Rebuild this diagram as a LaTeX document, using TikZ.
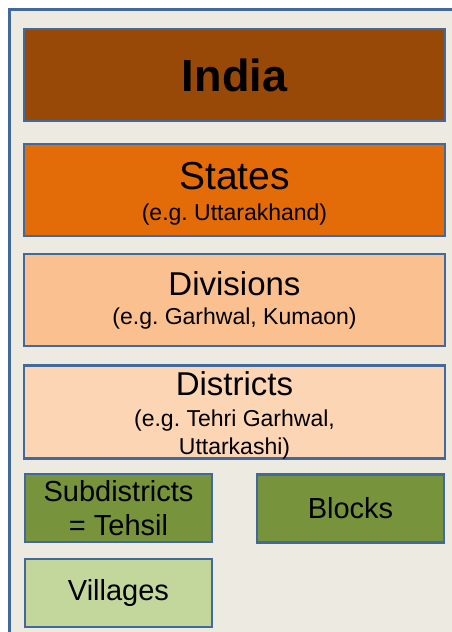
\documentclass[tikz,border=0pt]{standalone}
\usepackage{fontspec}
\setmainfont{Liberation Sans}
\frenchspacing
\definecolor{frameblue}{HTML}{41699B}
\definecolor{bgtan}{HTML}{EDEBE1}
\definecolor{indiafill}{HTML}{984807}
\definecolor{statefill}{HTML}{E36C09}
\definecolor{divfill}{HTML}{FAC090}
\definecolor{distfill}{HTML}{FCD5B5}
\definecolor{greenfill}{HTML}{77933C}
\definecolor{villfill}{HTML}{C3D69B}
\tikzset{
  box/.style={draw=frameblue, line width=2.8pt, rectangle, align=center, inner sep=0pt, text=black},
  widebox/.style={box, minimum width=421pt, minimum height=92pt},
  smallbox/.style={box, minimum width=187pt, minimum height=68pt},
  subfont/.style={font=\fontsize{23}{31}\selectfont}
}
\begin{document}
\begin{tikzpicture}[x=1pt,y=-1pt]
\useasboundingbox (0,0) rectangle (452,632);
\clip (0,0) rectangle (452,632);
\fill[white] (0,0) rectangle (452,632);
\draw[draw=frameblue, fill=bgtan, line width=3pt] (9.5,9.5) rectangle (480,660);
\node[widebox, fill=indiafill, font=\fontsize{45}{50}\selectfont\bfseries] (india) at (234.5,75) {India};
\node[widebox, fill=statefill, subfont] (states) at (234.5,190) {{\fontsize{39}{39}\selectfont\rule{0pt}{35pt}States}\\(e.g. Uttarakhand)};
\node[widebox, fill=divfill, font=\fontsize{23}{29}\selectfont] (divisions) at (234.5,300) {{\fontsize{33}{33}\selectfont Divisions}\\(e.g. Garhwal, Kumaon)};
\node[widebox, fill=distfill, font=\fontsize{23}{28}\selectfont] (districts) at (234.5,412) {{\fontsize{33}{33}\selectfont\rule{0pt}{30pt}Districts}\\[3pt](e.g. Tehri Garhwal,\\Uttarkashi)};
\node[smallbox, fill=greenfill, font=\fontsize{29}{34}\selectfont] (subdistricts) at (118.5,508) {Subdistricts\\= Tehsil};
\node[smallbox, fill=greenfill, font=\fontsize{29}{34}\selectfont] (blocks) at (350.5,508.5) {Blocks};
\node[smallbox, fill=villfill, font=\fontsize{29}{34}\selectfont] (villages) at (118.5,593) {Villages};
\end{tikzpicture}
\end{document}
